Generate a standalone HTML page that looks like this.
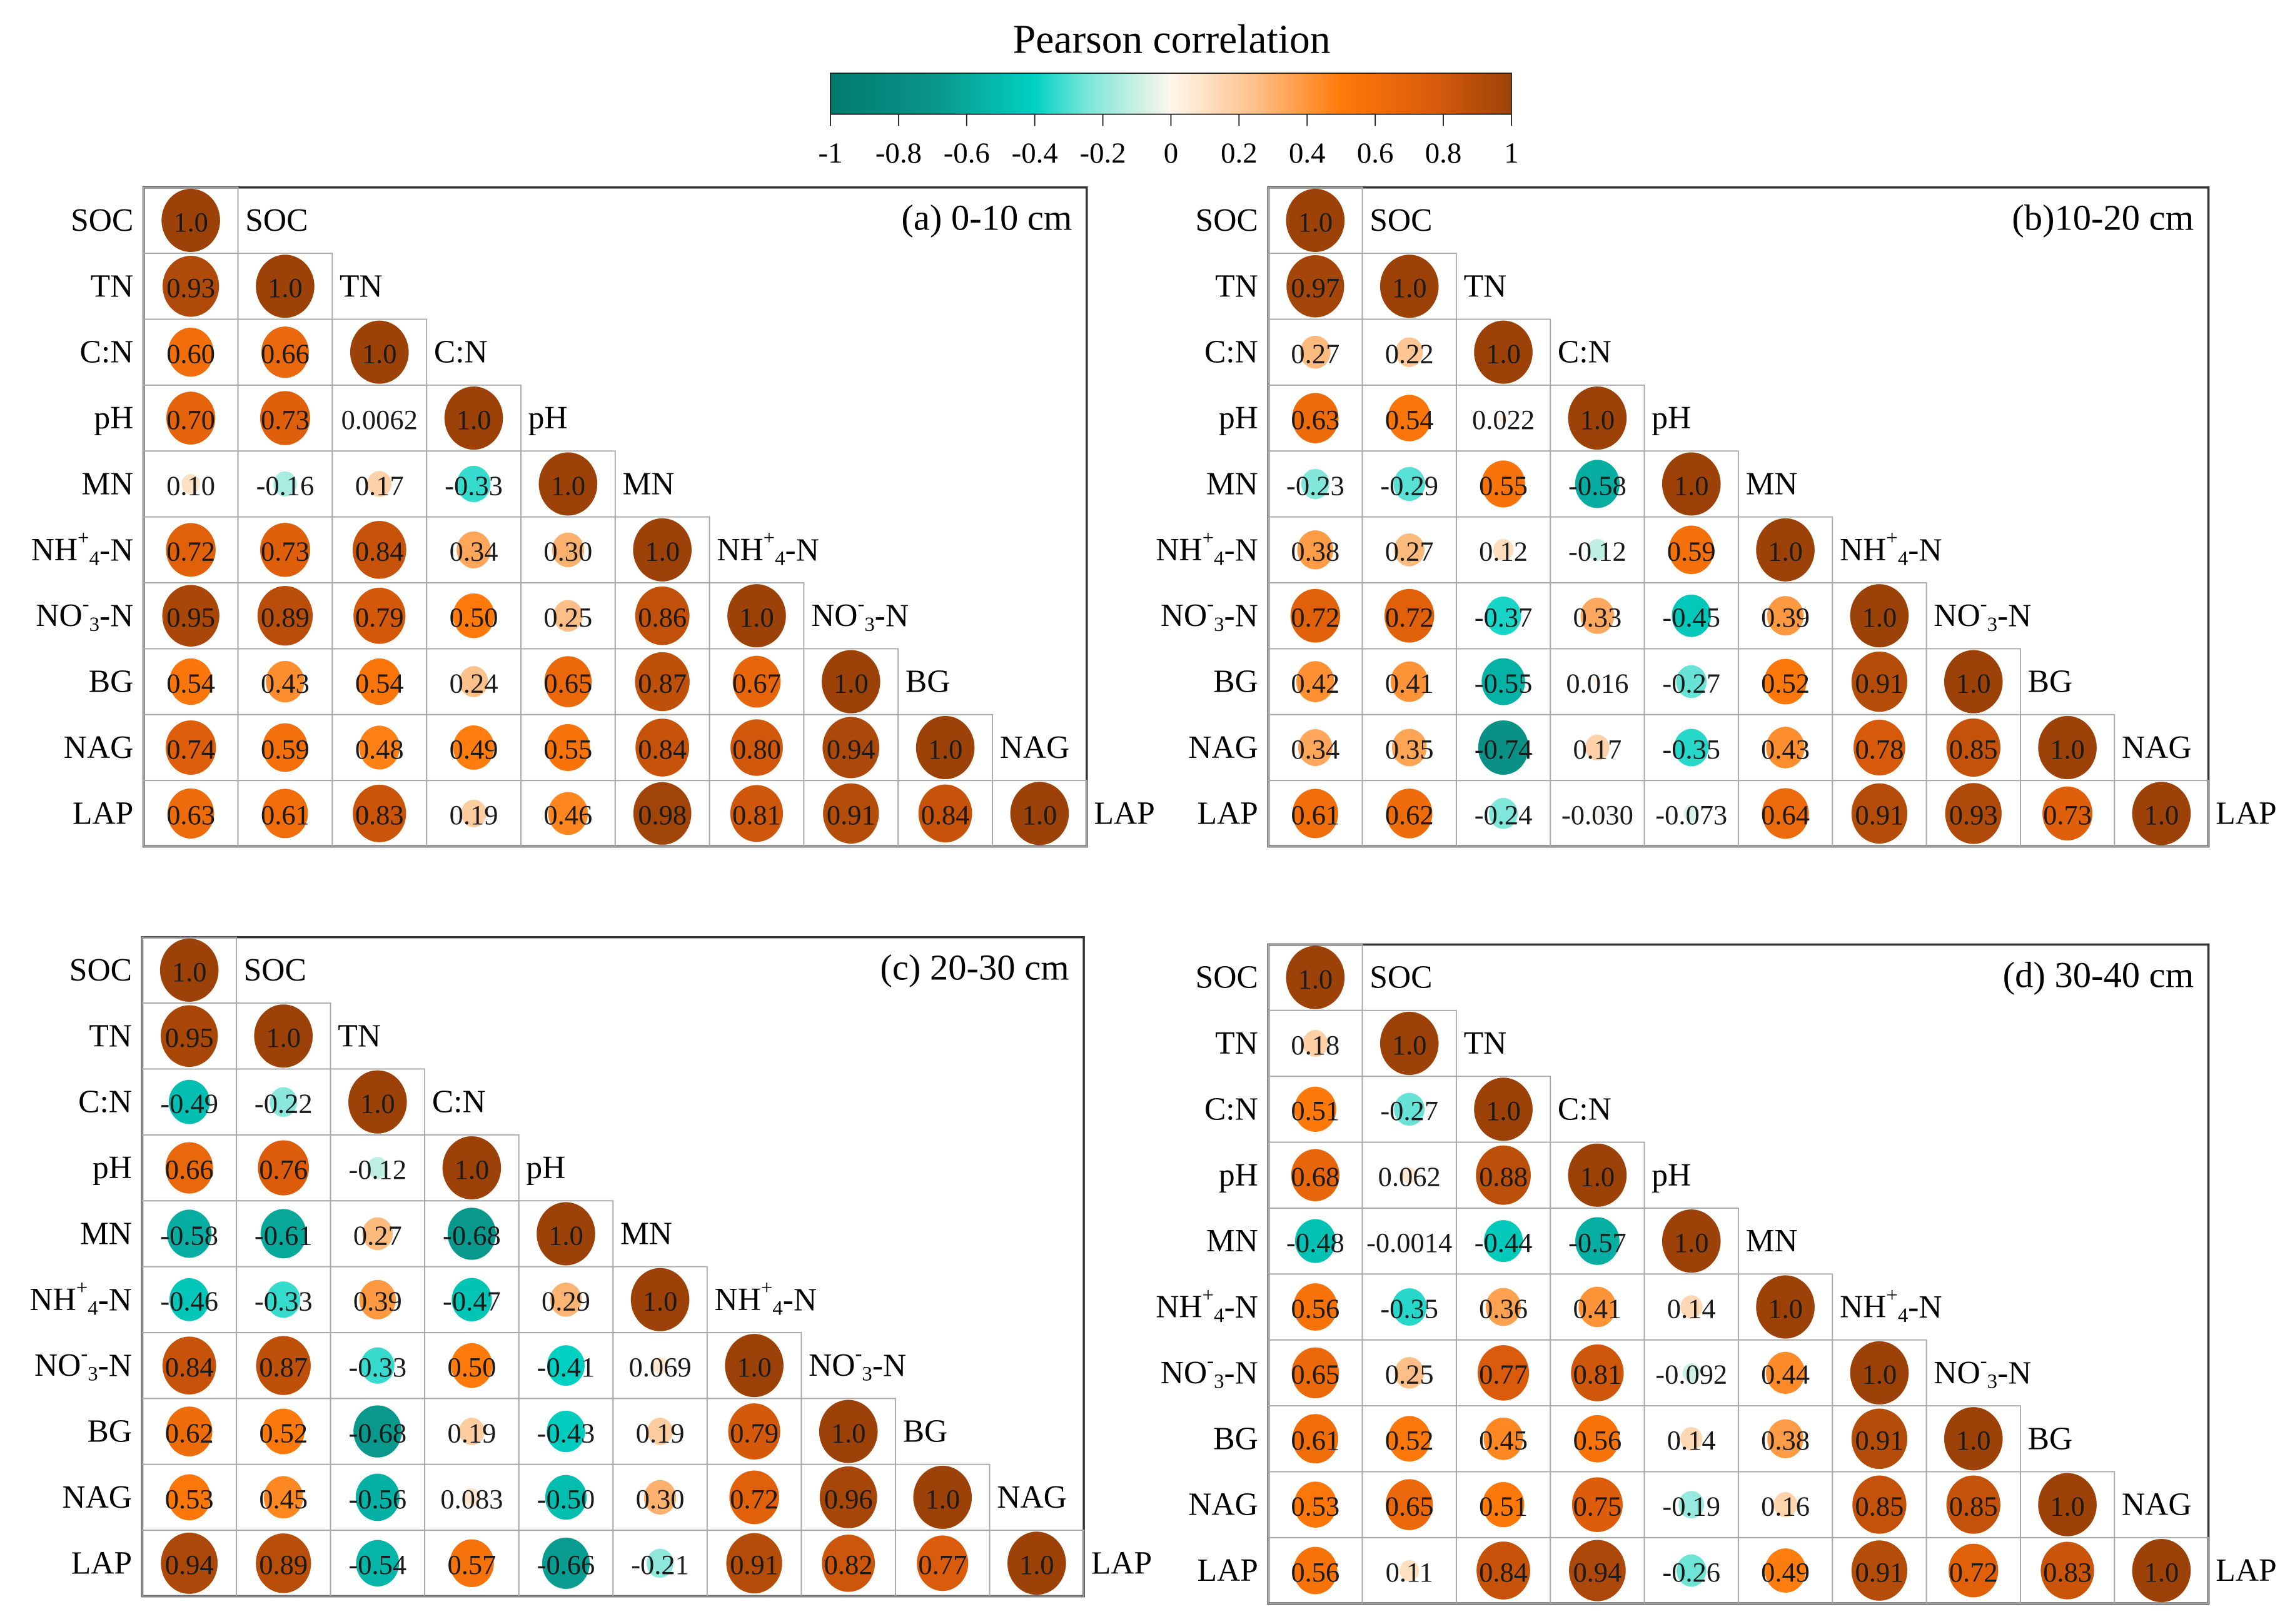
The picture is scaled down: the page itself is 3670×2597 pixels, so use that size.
<!DOCTYPE html>
<html><head><meta charset="utf-8"><style>
html,body{margin:0;padding:0;background:#fff;}
svg{display:block;}
svg text{font-family:"Liberation Serif","DejaVu Serif",serif;}
</style></head><body>
<svg id="chart" width="3670" height="2597" viewBox="0 0 1567 1109" xmlns="http://www.w3.org/2000/svg" font-family="Liberation Serif, serif">
<defs>
<linearGradient id="cbar" x1="0" x2="1" y1="0" y2="0">
<stop offset="0" stop-color="#007a6f"/>
<stop offset="0.15" stop-color="#0a9488"/>
<stop offset="0.3" stop-color="#00d2c3"/>
<stop offset="0.38" stop-color="#7ee6da"/>
<stop offset="0.5" stop-color="#fff7ec"/>
<stop offset="0.62" stop-color="#fdc28c"/>
<stop offset="0.75" stop-color="#ff7a0a"/>
<stop offset="0.88" stop-color="#dc5c0b"/>
<stop offset="1" stop-color="#9c4209"/>
</linearGradient>
</defs>
<g id="legend">
<text x="800" y="36" font-size="28" text-anchor="middle" font-family="Liberation Serif, serif">Pearson correlation</text>
<rect x="567" y="50" width="465" height="28" fill="url(#cbar)" stroke="#222" stroke-width="0.8"/>
</g>
<g id="panels"></g>
</svg>
<script>
var varNames = ["SOC","TN","C:N","pH","MN","NH4","NO3","BG","NAG","LAP"];
var tickValues = [-1,-0.8,-0.6,-0.4,-0.2,0,0.2,0.4,0.6,0.8,1];
var panelTitles = ["(a) 0-10 cm","(b)10-20 cm","(c) 20-30 cm","(d) 30-40 cm"];
var corrA = [[],[0.93],[0.60,0.66],[0.70,0.73,0.0062],[0.10,-0.16,0.17,-0.33],[0.72,0.73,0.84,0.34,0.30],[0.95,0.89,0.79,0.50,0.25,0.86],[0.54,0.43,0.54,0.24,0.65,0.87,0.67],[0.74,0.59,0.48,0.49,0.55,0.84,0.80,0.94],[0.63,0.61,0.83,0.19,0.46,0.98,0.81,0.91,0.84]];
var corrB = [[],[0.97],[0.27,0.22],[0.63,0.54,0.022],[-0.23,-0.29,0.55,-0.58],[0.38,0.27,0.12,-0.12,0.59],[0.72,0.72,-0.37,0.33,-0.45,0.39],[0.42,0.41,-0.55,0.016,-0.27,0.52,0.91],[0.34,0.35,-0.74,0.17,-0.35,0.43,0.78,0.85],[0.61,0.62,-0.24,-0.030,-0.073,0.64,0.91,0.93,0.73]];
var corrC = [[],[0.95],[-0.49,-0.22],[0.66,0.76,-0.12],[-0.58,-0.61,0.27,-0.68],[-0.46,-0.33,0.39,-0.47,0.29],[0.84,0.87,-0.33,0.50,-0.41,0.069],[0.62,0.52,-0.68,0.19,-0.43,0.19,0.79],[0.53,0.45,-0.56,0.083,-0.50,0.30,0.72,0.96],[0.94,0.89,-0.54,0.57,-0.66,-0.21,0.91,0.82,0.77]];
var corrD = [[],[0.18],[0.51,-0.27],[0.68,0.062,0.88],[-0.48,-0.0014,-0.44,-0.57],[0.56,-0.35,0.36,0.41,0.14],[0.65,0.25,0.77,0.81,-0.092,0.44],[0.61,0.52,0.45,0.56,0.14,0.38,0.91],[0.53,0.65,0.51,0.75,-0.19,0.16,0.85,0.85],[0.56,0.11,0.84,0.94,-0.26,0.49,0.91,0.72,0.83]];

var NS="http://www.w3.org/2000/svg";
var FF="Liberation Serif, serif";
function mk(tag,attrs,parent){var e=document.createElementNS(NS,tag);for(var k in attrs)e.setAttribute(k,attrs[k]);if(tag==='text')e.setAttribute('font-family',FF);parent.appendChild(e);return e;}

var cbX0=567,cbX1=1032;
function cbScale(v){return cbX0+(v+1)/2*(cbX1-cbX0);}
var lg=document.getElementById('legend');
tickValues.forEach(function(t){
  var l=mk('line',{x1:cbScale(t),x2:cbScale(t),y1:78,y2:86,stroke:'#222','stroke-width':0.8},lg);
  
  
  var tx=mk('text',{x:cbScale(t),y:111,'font-size':20,'text-anchor':'middle'},lg);
  tx.textContent=String(t);
  
  
});

var stops=[[-1,[0,122,111]],[-0.7,[10,148,136]],[-0.4,[0,210,195]],[-0.24,[126,230,218]],[0,[255,247,236]],[0.24,[253,194,140]],[0.5,[255,122,10]],[0.76,[220,92,11]],[1,[156,66,9]]];
function color(v){
  for(var i=0;i<stops.length-1;i++){
    var a=stops[i],b=stops[i+1];
    if(v>=a[0]&&v<=b[0]){var f=(v-a[0])/(b[0]-a[0]);
      return 'rgb('+a[1].map(function(c,k){return Math.round(c+(b[1][k]-c)*f);}).join(',')+')';}
  }
  return 'rgb(156,66,9)';
}
function fmt(v){if(v===1)return '1.0';return Math.abs(v)>=0.1?v.toFixed(2):v.toPrecision(2);}
function label(parent,name,x,y,anchor){
  var t=mk('text',{x:x,y:y,'font-size':22,'text-anchor':anchor,'dominant-baseline':'central'},parent);
  if(name==='NH4'){t.innerHTML='NH<tspan font-size="14" dy="-8">+</tspan><tspan font-size="14" dy="14">4</tspan><tspan dy="-6">-N</tspan>';}
  else if(name==='NO3'){t.innerHTML='NO<tspan font-size="14" dy="-8">-</tspan><tspan font-size="14" dy="14">3</tspan><tspan dy="-6">-N</tspan>';}
  else t.textContent=name;
  return t;
}

var panelData=[corrA,corrB,corrC,corrD];
var panelBoxes=[[98,128,742,578],[866,128,1508,578],[97,640,740,1090],[866,645,1508,1095]];
var pg=document.getElementById('panels');
panelData.forEach(function(mat,p){
  var b=panelBoxes[p],x0=b[0],y0=b[1],cw=(b[2]-b[0])/10,rh=(b[3]-b[1])/10;
  var g=mk('g',{},pg);
  
  
  var box=mk('rect',{x:x0,y:y0,width:b[2]-b[0],height:b[3]-b[1],fill:'none',stroke:'#333','stroke-width':1.5},g);
  
  
  var tt=mk('text',{x:b[2]-10,y:y0+29,'font-size':25,'text-anchor':'end'},g);
  tt.textContent=panelTitles[p];
  
  
  for(var i=0;i<10;i++){
    var cy=y0+(i+0.5)*rh;
    var rl=label(g,varNames[i],x0-7,cy,'end');
    
    
    var dl=label(g,varNames[i],x0+(i+1)*cw+5,cy,'start');
    
    
    for(var j=0;j<=i;j++){
      var v=(j===i)?1:mat[i][j];
      var cx=x0+(j+0.5)*cw;
      var cell=mk('rect',{x:x0+j*cw,y:y0+i*rh,width:cw,height:rh,fill:'none',stroke:'#a8a8a8','stroke-width':0.8},g);
      
      
      var r=20*Math.sqrt(Math.abs(v));
      var c=mk('ellipse',{cx:cx,cy:cy,rx:r,ry:r*1.08,fill:color(v)},g);
      
      
      var vt=mk('text',{x:cx,y:cy+1,'font-size':19,'text-anchor':'middle','dominant-baseline':'central',fill:'#1a1a1a'},g);
      vt.textContent=fmt(v);
      
      
    }
  }
});
</script>
</body></html>
